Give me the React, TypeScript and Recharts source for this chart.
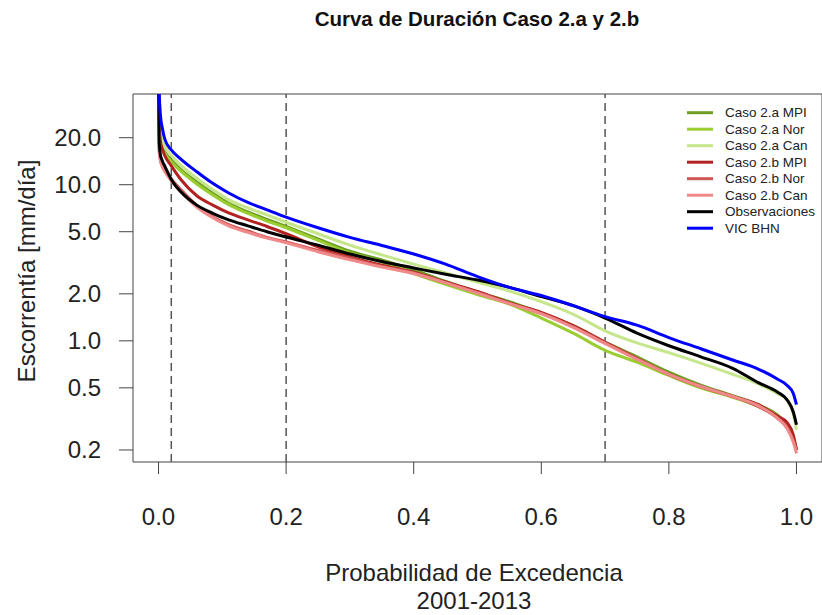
import React from "react";
import { LineChart, Line, XAxis, YAxis, ReferenceLine, ReferenceArea } from "recharts";

const X = [0, 0.001, 0.003, 0.006, 0.01, 0.02, 0.035, 0.06, 0.085, 0.11, 0.14, 0.17, 0.2, 0.25, 0.3, 0.35, 0.4, 0.45, 0.5, 0.55, 0.6, 0.65, 0.7, 0.75, 0.8, 0.85, 0.9, 0.94, 0.97, 0.985, 0.995, 1.0];

const caso2aMPI = [42, 25, 19.5, 17.5, 16.2, 14.4, 12.5, 10.4, 8.8, 7.6, 6.7, 6.0, 5.4, 4.5, 3.75, 3.3, 2.85, 2.4, 2.05, 1.78, 1.5, 1.25, 0.98, 0.79, 0.63, 0.52, 0.445, 0.39, 0.335, 0.29, 0.24, 0.2];
const caso2aNor = [40, 24, 19, 17, 15.8, 14.0, 12.2, 10.1, 8.6, 7.45, 6.55, 5.85, 5.3, 4.4, 3.65, 3.2, 2.7, 2.3, 1.98, 1.72, 1.4, 1.12, 0.87, 0.73, 0.6, 0.5, 0.435, 0.38, 0.33, 0.285, 0.235, 0.2];
const caso2aCan = [45, 28, 21.5, 19, 17.5, 15.4, 13.3, 11.0, 9.3, 8.0, 7.1, 6.4, 5.75, 4.85, 4.1, 3.55, 3.1, 2.72, 2.38, 2.08, 1.78, 1.48, 1.16, 0.97, 0.84, 0.72, 0.61, 0.53, 0.46, 0.42, 0.34, 0.27];
const caso2bMPI = [42, 24, 19, 16.9, 15.3, 13.2, 10.8, 8.5, 7.4, 6.6, 5.95, 5.4, 4.85, 4.0, 3.45, 3.05, 2.75, 2.38, 2.07, 1.75, 1.52, 1.25, 0.98, 0.77, 0.61, 0.51, 0.44, 0.39, 0.33, 0.3, 0.25, 0.2];
const caso2bNor = [38, 17, 14.5, 13.3, 12.4, 10.9, 9.3, 7.35, 6.24, 5.55, 5.05, 4.6, 4.3, 3.8, 3.38, 3.0, 2.72, 2.36, 2.04, 1.74, 1.5, 1.23, 0.97, 0.77, 0.61, 0.51, 0.44, 0.38, 0.32, 0.28, 0.23, 0.2];
const caso2bCan = [36, 16.5, 14.2, 13.0, 12.1, 10.6, 9.0, 7.2, 6.15, 5.45, 4.95, 4.55, 4.25, 3.72, 3.3, 2.97, 2.7, 2.35, 2.02, 1.73, 1.49, 1.22, 0.96, 0.76, 0.61, 0.51, 0.44, 0.385, 0.32, 0.275, 0.225, 0.19];
const observaciones = [45, 19, 15.5, 14.2, 13.1, 10.8, 9.0, 7.4, 6.56, 5.95, 5.45, 5.0, 4.62, 4.1, 3.6, 3.22, 2.93, 2.67, 2.45, 2.2, 1.92, 1.68, 1.4, 1.12, 0.93, 0.79, 0.667, 0.54, 0.47, 0.42, 0.35, 0.29];
const vicBHN = [60, 40, 28, 23, 19.5, 16.7, 14.6, 12.1, 10.2, 8.85, 7.7, 6.9, 6.2, 5.3, 4.6, 4.08, 3.6, 3.1, 2.58, 2.2, 1.95, 1.68, 1.43, 1.26, 1.05, 0.89, 0.754, 0.66, 0.57, 0.52, 0.46, 0.39];

const xTicks = [0, 0.2, 0.4, 0.6, 0.8, 1.0];
const yTicks = [0.2, 0.5, 1, 2, 5, 10, 20];
const refLines = [0.02, 0.2, 0.7];

const series = [
  { key: "a_mpi", name: "Caso 2.a MPI", color: "#6e9e22", values: caso2aMPI },
  { key: "a_nor", name: "Caso 2.a Nor", color: "#9acd32", values: caso2aNor },
  { key: "a_can", name: "Caso 2.a Can", color: "#c5e68a", values: caso2aCan },
  { key: "b_mpi", name: "Caso 2.b MPI", color: "#b22222", values: caso2bMPI },
  { key: "b_nor", name: "Caso 2.b Nor", color: "#d05555", values: caso2bNor },
  { key: "b_can", name: "Caso 2.b Can", color: "#f08a8a", values: caso2bCan },
  { key: "obs", name: "Observaciones", color: "#000000", values: observaciones },
  { key: "vic", name: "VIC BHN", color: "#0000ff", values: vicBHN },
];

const data = X.map((x, i) => {
  const row: Record<string, number> = { x };
  series.forEach((s) => (row[s.key] = s.values[i]));
  return row;
});

const FONT = "'Liberation Sans', Arial, Helvetica, sans-serif";
const Y_MIN = 0.1675;
const Y_MAX = 38.1;

export default function App() {
  return (
    <div style={{ position: "absolute", left: 0, top: 0, width: 822, height: 615, background: "#fff", fontFamily: FONT }}>
      <LineChart width={822} height={615} data={data} margin={{ top: 94, right: 0, bottom: 73, left: 0 }}>
        <XAxis
          dataKey="x"
          type="number"
          domain={[-0.04, 1.04]}
          allowDataOverflow
          ticks={xTicks}
          interval={0}
          tickFormatter={(v: number) => v.toFixed(1)}
          tickSize={12}
          tickMargin={34}
          height={80}
          axisLine={false}
          tickLine={{ stroke: "#444", strokeWidth: 1 }}
          tick={{ fill: "#222", fontSize: 24, fontFamily: FONT }}
        />
        <YAxis
          type="number"
          scale="log"
          domain={[Y_MIN, Y_MAX]}
          allowDataOverflow
          ticks={yTicks}
          interval={0}
          tickFormatter={(v: number) => v.toFixed(1)}
          tickSize={14}
          tickMargin={18}
          width={133}
          axisLine={false}
          tickLine={{ stroke: "#444", strokeWidth: 1 }}
          tick={{ fill: "#222", fontSize: 24, fontFamily: FONT }}
        />
        {refLines.map((x) => (
          <ReferenceLine key={x} x={x} stroke="#555" strokeWidth={1.5} strokeDasharray="8 5" ifOverflow="hidden" />
        ))}
        {series.map((s) => (
          <Line
            key={s.key}
            dataKey={s.key}
            name={s.name}
            type="monotone"
            stroke={s.color}
            strokeWidth={3}
            dot={false}
            activeDot={false}
            isAnimationActive={false}
          />
        ))}
        <ReferenceArea x1={-0.04} x2={1.04} y1={Y_MIN} y2={Y_MAX} fill="none" stroke="#444" strokeWidth={1} ifOverflow="visible" />
      </LineChart>
      <svg width={822} height={615} style={{ position: "absolute", left: 0, top: 0, pointerEvents: "none" }}>
        <text x={477} y={18} textAnchor="middle" dominantBaseline="central" fontSize={20.5} fontWeight="bold" fill="#111" fontFamily={FONT}>
          Curva de Duración Caso 2.a y 2.b
        </text>
        <text x={474} y={572} textAnchor="middle" dominantBaseline="central" fontSize={24} fill="#222" fontFamily={FONT}>
          Probabilidad de Excedencia
        </text>
        <text x={474} y={600} textAnchor="middle" dominantBaseline="central" fontSize={24} fill="#222" fontFamily={FONT}>
          2001-2013
        </text>
        <text x={26} y={271} textAnchor="middle" dominantBaseline="central" fontSize={24} fill="#222" fontFamily={FONT} transform="rotate(-90 26 271)">
          Escorrentía [mm/día]
        </text>
        {series.map((s, i) => (
          <g key={s.key}>
            <line x1={687} x2={713} y1={112.7 + i * 16.5} y2={112.7 + i * 16.5} stroke={s.color} strokeWidth={3} />
            <text x={725} y={112.7 + i * 16.5} dominantBaseline="central" fontSize={13.5} fill="#222" fontFamily={FONT}>
              {s.name}
            </text>
          </g>
        ))}
      </svg>
    </div>
  );
}
